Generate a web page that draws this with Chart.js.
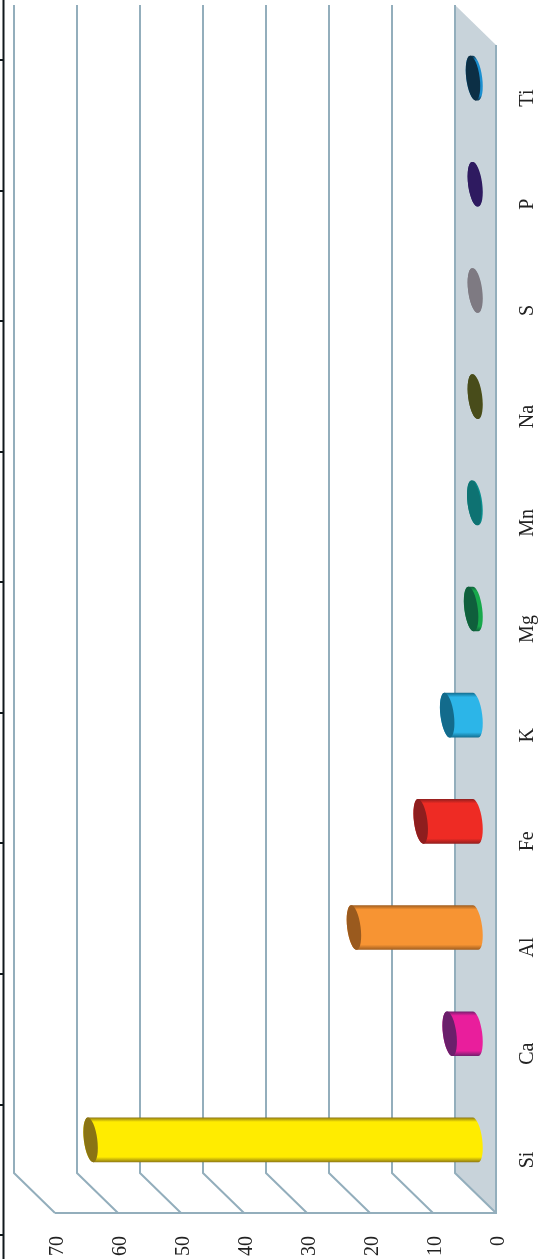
<!DOCTYPE html>
<html>
<head>
<meta charset="utf-8">
<style>
  html, body { margin: 0; padding: 0; background: #fff; }
  canvas { display: block; }
</style>
<script src="https://cdn.jsdelivr.net/npm/chart.js@4/dist/chart.umd.min.js"></script>
</head>
<body>
<canvas id="chartElements" width="549" height="1259"></canvas>
<script>
// Categories run top to bottom on the page (the figure is a column chart turned on its side)
const categories = ['Ti', 'P', 'S', 'Na', 'Mn', 'Mg', 'K', 'Fe', 'Al', 'Ca', 'Si'];
const values = [0.4, 0.1, 0.1, 0.1, 0.2, 0.7, 4.5, 8.7, 19.3, 4.1, 61.1];
const bodyColors = ['#1b8fd0', '#2e1a60', '#7e7a82', '#50531a', '#0a9090', '#17a84b', '#2cb5e8', '#ee2b24', '#f79433', '#e91e9c', '#ffec00'];
const capColors = ['#0c2f45', '#2e1a60', '#7e7a82', '#484c1a', '#0e7272', '#0f5f3c', '#136b8c', '#8e1e1e', '#9a5a1e', '#6b1f6b', '#8a7414'];

const axisMax = 70;
const axisStep = 10;

// Black edge of the neighbouring panel, cut off at the left of the figure
const edgeTicks = [60, 191, 321, 452, 582, 713, 843, 974, 1105, 1235];

const depthX = 41;
const depthY = 40;
const lineColor = '#93aebc';

const box3d = {
    id: 'box3d',
    beforeDatasetsDraw(chart) {
        const { ctx, chartArea: a, scales: { x } } = chart;
        const zero = x.getPixelForValue(0);
        ctx.save();

        // floor
        ctx.fillStyle = '#c8d3da';
        ctx.beginPath();
        ctx.moveTo(zero - depthX, a.top - depthY);
        ctx.lineTo(zero, a.top);
        ctx.lineTo(zero, a.bottom);
        ctx.lineTo(zero - depthX, a.bottom - depthY);
        ctx.closePath();
        ctx.fill();

        // gridlines on the back wall and down the side
        ctx.strokeStyle = lineColor;
        ctx.lineWidth = 2;
        x.ticks.forEach(t => {
            const px = x.getPixelForValue(t.value);
            ctx.beginPath();
            ctx.moveTo(px - depthX, a.top - depthY);
            ctx.lineTo(px - depthX, a.bottom - depthY);
            ctx.lineTo(px, a.bottom);
            ctx.stroke();
        });
        ctx.beginPath();
        ctx.moveTo(x.getPixelForValue(axisMax), a.bottom);
        ctx.lineTo(zero, a.bottom);
        ctx.lineTo(zero, a.top);
        ctx.stroke();

        // edge line with its ticks
        ctx.strokeStyle = '#10181c';
        ctx.lineWidth = 2;
        ctx.beginPath();
        ctx.moveTo(3.5, 0);
        ctx.lineTo(3.5, chart.height);
        edgeTicks.forEach(y => {
            ctx.moveTo(0, y);
            ctx.lineTo(3.5, y);
        });
        ctx.stroke();
        ctx.restore();
    },
    afterDatasetsDraw(chart) {
        const { ctx } = chart;
        const rx = 6.7;
        const tilt = -0.13;
        chart.getDatasetMeta(0).data.forEach((bar, i) => {
            // bars stand halfway back on the floor
            const tip = bar.x - depthX / 2;
            const base = bar.base - depthX / 2;
            const y = bar.y - depthY / 2;
            const ry = bar.height / 2;

            const shade = ctx.createLinearGradient(0, y - ry, 0, y + ry);
            shade.addColorStop(0, capColors[i]);
            shade.addColorStop(0.1, bodyColors[i]);
            shade.addColorStop(0.88, bodyColors[i]);
            shade.addColorStop(1, capColors[i]);

            ctx.save();
            ctx.fillStyle = shade;
            ctx.beginPath();
            ctx.ellipse(base, y, rx, ry, tilt, -Math.PI / 2, Math.PI / 2);
            ctx.ellipse(tip, y, rx, ry, tilt, Math.PI / 2, Math.PI * 1.5);
            ctx.closePath();
            ctx.fill();

            ctx.fillStyle = capColors[i];
            ctx.beginPath();
            ctx.ellipse(tip, y, rx, ry, tilt, 0, Math.PI * 2);
            ctx.fill();
            ctx.restore();
        });
    }
};

new Chart(document.getElementById('chartElements'), {
    type: 'bar',
    data: {
        labels: categories,
        datasets: [{
            data: values,
            backgroundColor: 'transparent',
            barThickness: 45
        }]
    },
    options: {
        indexAxis: 'y',
        responsive: false,
        animation: false,
        events: [],
        layout: { padding: { left: 55, top: 45, right: 0, bottom: 0 } },
        plugins: { legend: { display: false }, tooltip: { enabled: false } },
        scales: {
            x: {
                type: 'linear',
                reverse: true,
                min: 0,
                max: axisMax,
                grid: { display: false },
                border: { display: false },
                afterFit(scale) { scale.height = 46; },
                ticks: {
                    stepSize: axisStep,
                    minRotation: 90,
                    maxRotation: 90,
                    padding: 15,
                    labelOffset: 3,
                    color: '#222',
                    font: { family: '"Liberation Serif"', size: 20 }
                }
            },
            y: {
                position: 'right',
                grid: { display: false },
                border: { display: false },
                afterFit(scale) { scale.width = 53; },
                ticks: {
                    minRotation: 90,
                    crossAlign: 'center',
                    padding: 10,
                    autoSkip: false,
                    color: '#222',
                    font: { family: '"Liberation Serif"', size: 20 }
                }
            }
        }
    },
    plugins: [box3d]
});
</script>
</body>
</html>
